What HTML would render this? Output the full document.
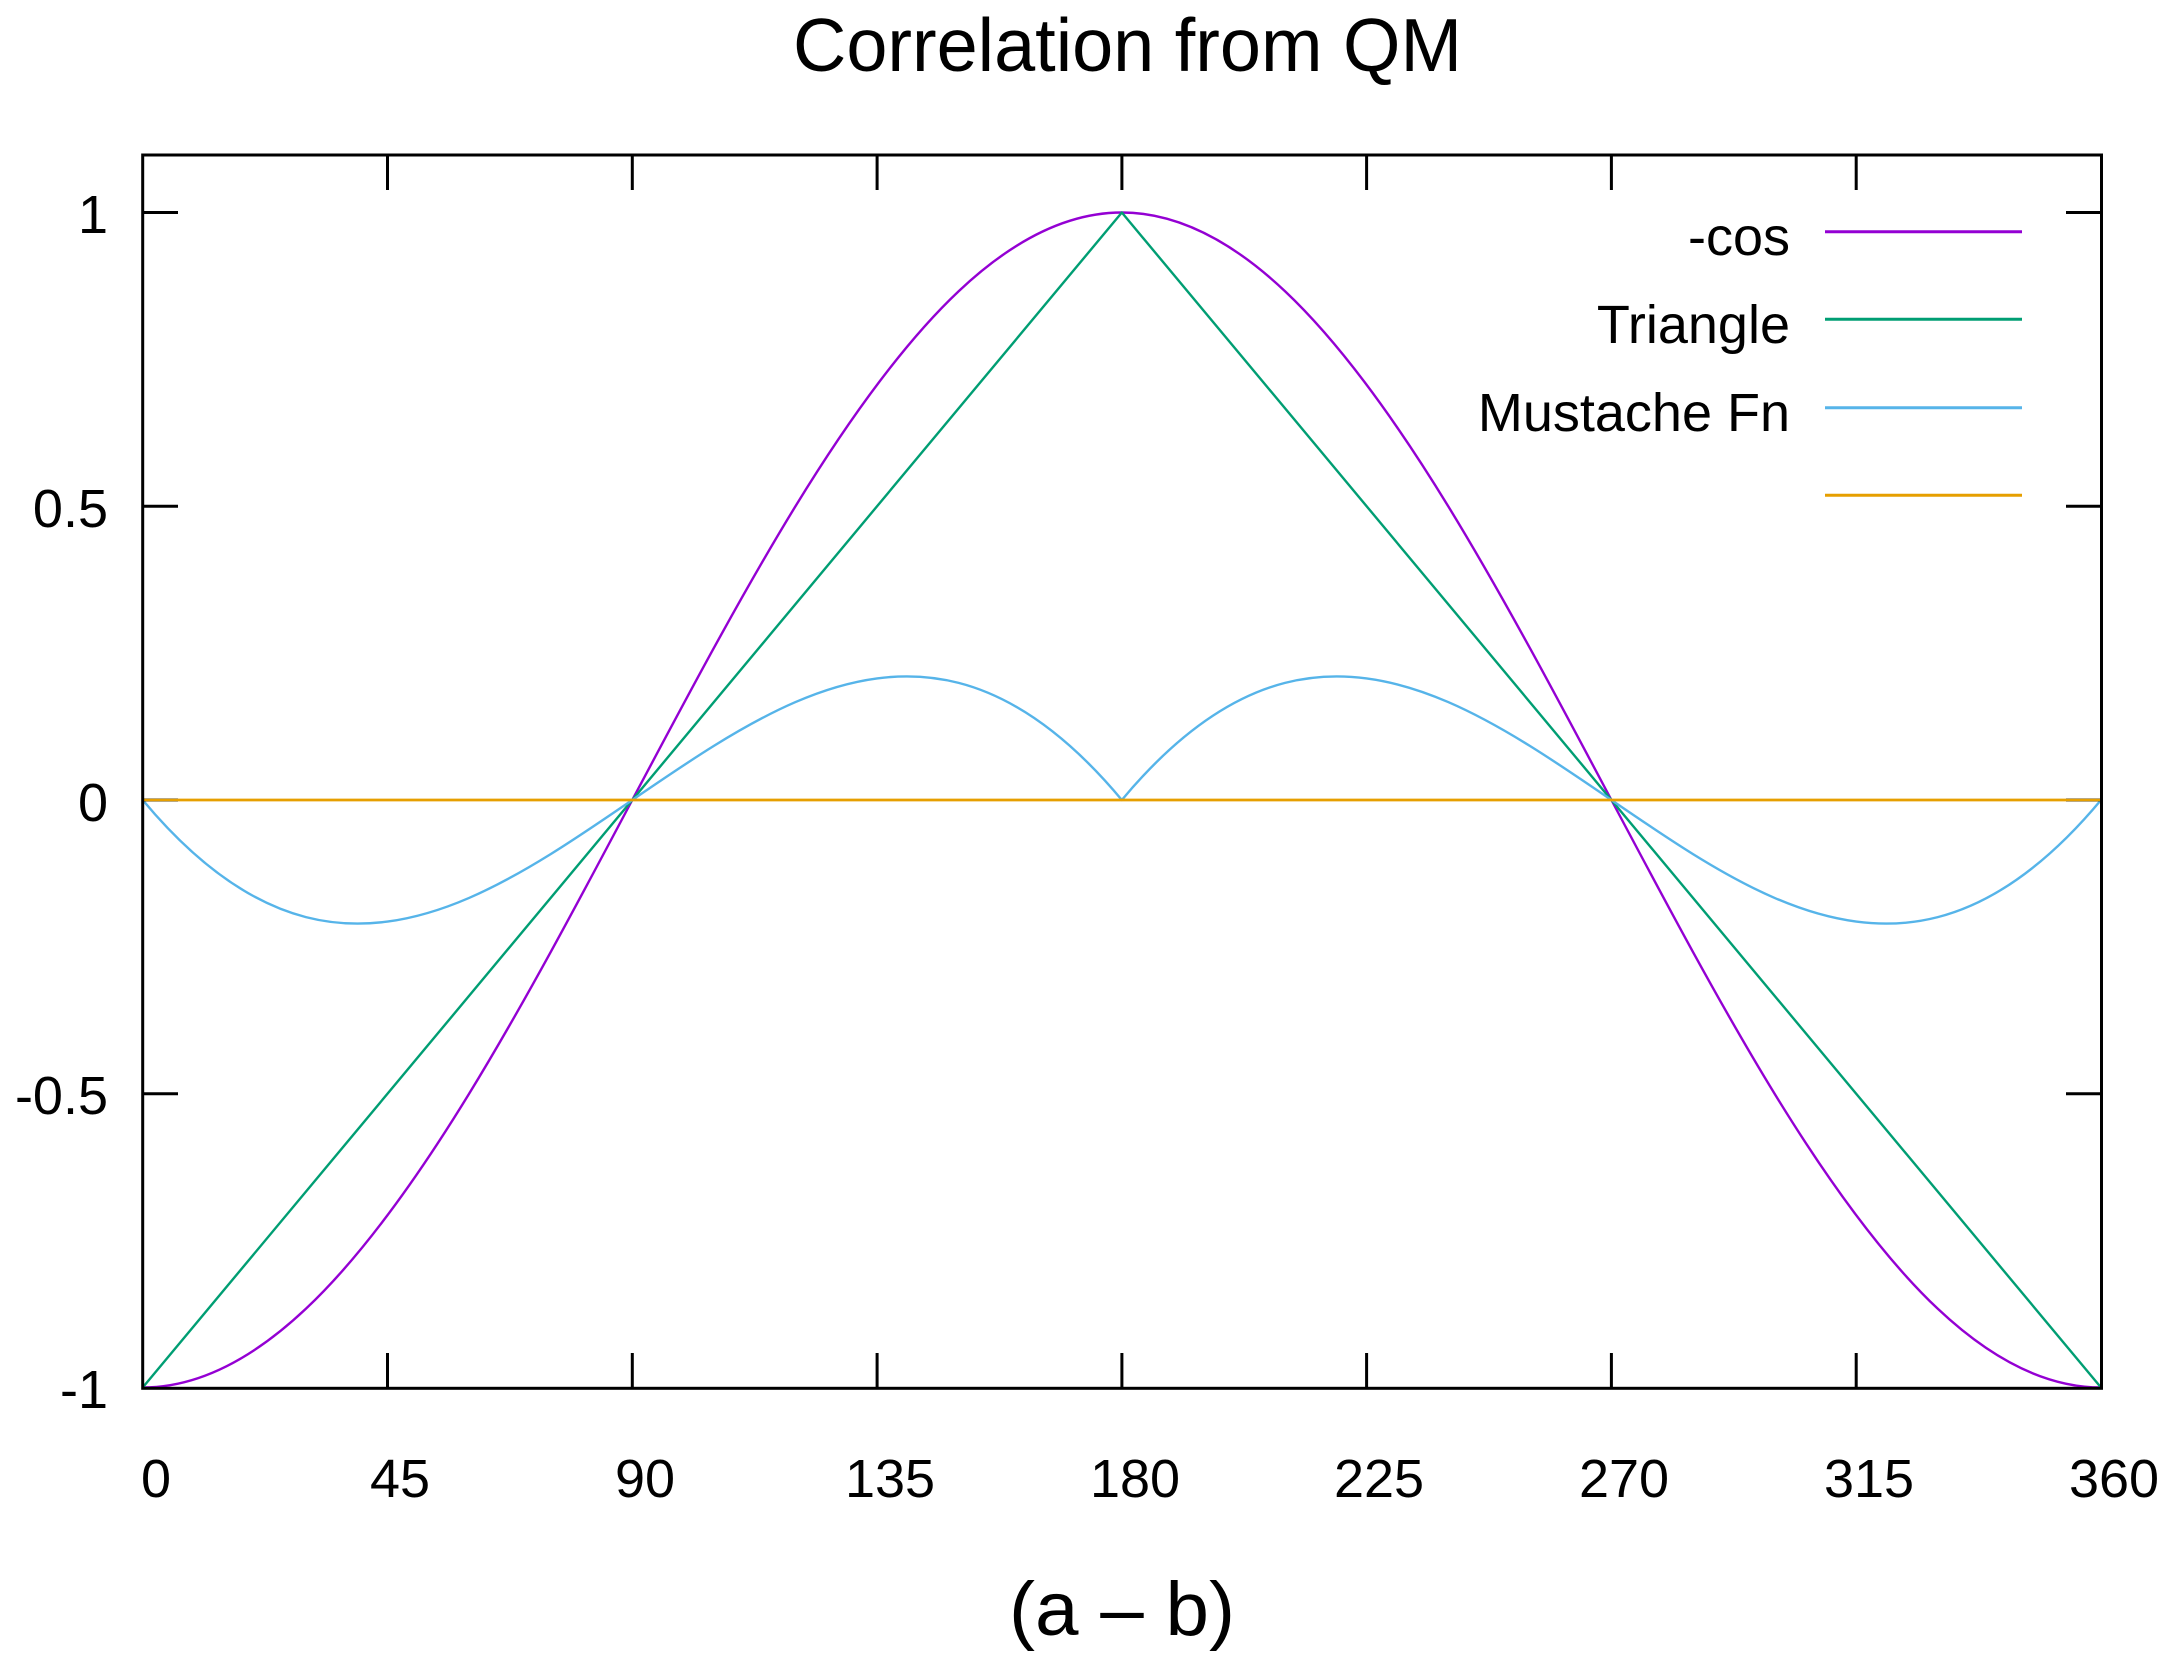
<!DOCTYPE html>
<html>
<head>
<meta charset="utf-8">
<style>
html,body{margin:0;padding:0;background:#fff;}
svg{display:block;}
text{font-family:"Liberation Sans",Arial,sans-serif;fill:#000;}
</style>
</head>
<body>
<svg width="2172" height="1669" viewBox="0 0 2172 1669" xmlns="http://www.w3.org/2000/svg">
<rect x="0" y="0" width="2172" height="1669" fill="#fff"/>

<!-- Title -->
<text x="793" y="71" font-size="75" textLength="669" lengthAdjust="spacingAndGlyphs">Correlation from QM</text>

<!-- Curves in data coordinates -->
<g transform="translate(142.7,800) scale(5.4397,-587.5)" fill="none" stroke-linejoin="round">
  <path vector-effect="non-scaling-stroke" stroke="#9400d3" stroke-width="2.4"
   d="M0,-1 C10,-1 20,-0.953291 30,-0.866025
      C40,-0.778759 50,-0.65115 60,-0.5
      C70,-0.34885 80,-0.174533 90,0
      C100,0.174533 110,0.34885 120,0.5
      C130,0.65115 140,0.778759 150,0.866025
      C160,0.953291 170,1 180,1
      C190,1 200,0.953291 210,0.866025
      C220,0.778759 230,0.65115 240,0.5
      C250,0.34885 260,0.174533 270,0
      C280,-0.174533 290,-0.34885 300,-0.5
      C310,-0.65115 320,-0.778759 330,-0.866025
      C340,-0.953291 350,-1 360,-1"/>
  <path vector-effect="non-scaling-stroke" stroke="#009e73" stroke-width="2.4"
   d="M0,-1 L180,1 L360,-1"/>
  <path vector-effect="non-scaling-stroke" stroke="#56b4e9" stroke-width="2.4"
   d="M0,0 C10,-0.111111 20,-0.175513 30,-0.199358
      C40,-0.223203 50,-0.206706 60,-0.166667
      C70,-0.126628 80,-0.063422 90,0
      C100,0.063422 110,0.126628 120,0.166667
      C130,0.206706 140,0.223203 150,0.199358
      C160,0.175513 170,0.111111 180,0
      C190,0.111111 200,0.175513 210,0.199358
      C220,0.223203 230,0.206706 240,0.166667
      C250,0.126628 260,0.063422 270,0
      C280,-0.063422 290,-0.126628 300,-0.166667
      C310,-0.206706 320,-0.223203 330,-0.199358
      C340,-0.175513 350,-0.111111 360,0"/>
  <path vector-effect="non-scaling-stroke" stroke="#e69f00" stroke-width="2.6"
   d="M0,0 L360,0"/>
</g>

<!-- Ticks -->
<g stroke="#000" stroke-width="3" fill="none">
  <!-- bottom & top x ticks -->
  <path d="M387.5,1388 V1353 M632.3,1388 V1353 M877.1,1388 V1353 M1121.9,1388 V1353 M1366.6,1388 V1353 M1611.4,1388 V1353 M1856.2,1388 V1353"/>
  <path d="M387.5,155 V190 M632.3,155 V190 M877.1,155 V190 M1121.9,155 V190 M1366.6,155 V190 M1611.4,155 V190 M1856.2,155 V190"/>
  <!-- left & right y ticks -->
  <path d="M142.7,212.5 H178 M142.7,506.25 H178 M142.7,800 H178 M142.7,1093.75 H178"/>
  <path d="M2101.5,212.5 H2066 M2101.5,506.25 H2066 M2101.5,800 H2066 M2101.5,1093.75 H2066"/>
</g>

<!-- orange zero line redrawn on top of ticks -->
<line x1="142.7" y1="800" x2="2101.5" y2="800" stroke="#e69f00" stroke-width="2.6"/>

<!-- Frame -->
<rect x="142.7" y="155" width="1958.8" height="1233.3" fill="none" stroke="#000" stroke-width="3"/>

<!-- Y tick labels -->
<g font-size="54" text-anchor="end">
  <text x="108" y="233">1</text>
  <text x="108" y="527">0.5</text>
  <text x="108" y="821">0</text>
  <text x="108" y="1114">-0.5</text>
  <text x="108" y="1408">-1</text>
</g>

<!-- X tick labels -->
<g font-size="54" text-anchor="middle">
  <text x="156" y="1497">0</text>
  <text x="400" y="1497">45</text>
  <text x="645" y="1497">90</text>
  <text x="890" y="1497">135</text>
  <text x="1135" y="1497">180</text>
  <text x="1379" y="1497">225</text>
  <text x="1624" y="1497">270</text>
  <text x="1869" y="1497">315</text>
  <text x="2114" y="1497">360</text>
</g>

<!-- X axis label -->
<text x="1009" y="1635" font-size="76" textLength="226" lengthAdjust="spacingAndGlyphs">(a – b)</text>

<!-- Legend -->
<g font-size="54" text-anchor="end">
  <text x="1790" y="255">-cos</text>
  <text x="1790" y="343">Triangle</text>
  <text x="1790" y="431">Mustache Fn</text>
</g>
<g stroke-width="3">
  <line x1="1825" y1="231.7" x2="2022" y2="231.7" stroke="#9400d3"/>
  <line x1="1825" y1="319.3" x2="2022" y2="319.3" stroke="#009e73"/>
  <line x1="1825" y1="407.7" x2="2022" y2="407.7" stroke="#56b4e9"/>
  <line x1="1825" y1="495.3" x2="2022" y2="495.3" stroke="#e69f00"/>
</g>
</svg>
</body>
</html>
